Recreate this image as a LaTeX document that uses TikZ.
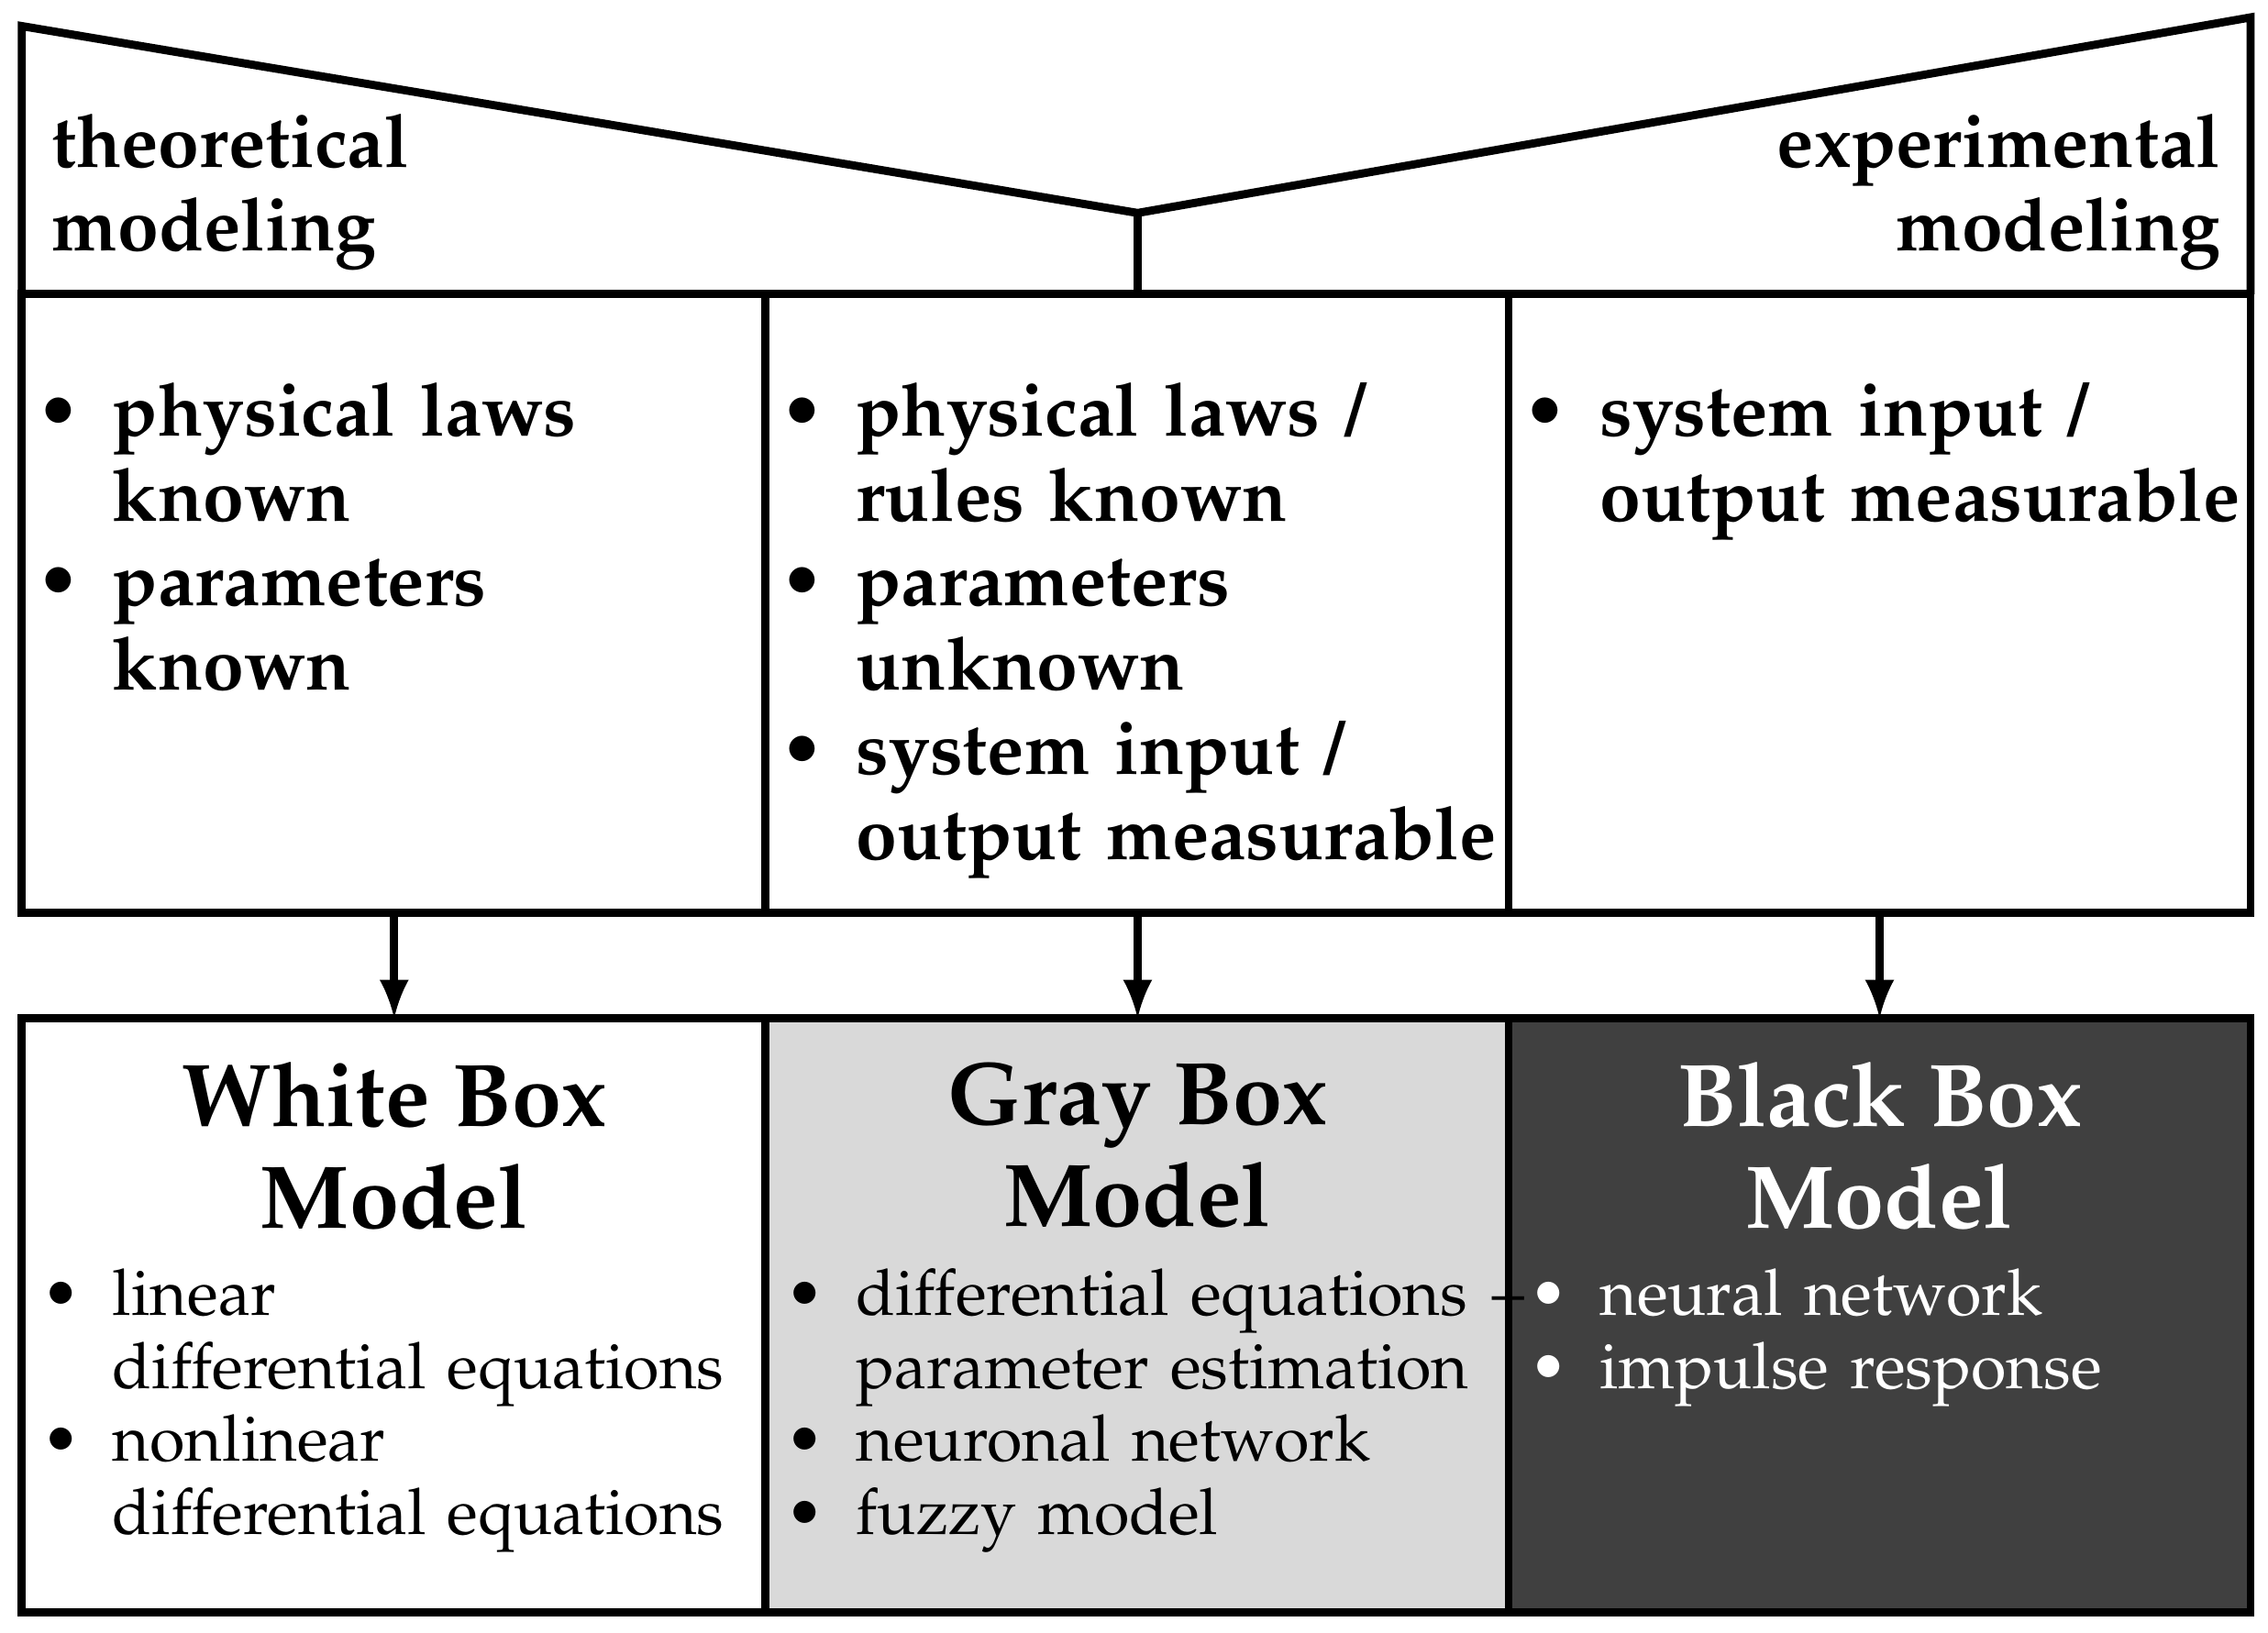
\documentclass[tikz,border=0pt]{standalone}
\usepackage[T1]{fontenc}
\usepackage{mathpazo}
\usepackage{enumitem}
\usetikzlibrary{positioning}
\definecolor{grayfill}{HTML}{D9D9D9}
\definecolor{darkfill}{HTML}{404040}
\setlist[itemize]{nosep,leftmargin=0.42cm,labelsep=0.22cm,label=\textbullet}

\begin{document}
\begin{tikzpicture}[x=0.01cm,y=-0.01cm,line width=1.6pt,
    toplist/.style={anchor=north west,inner sep=0pt,text width=5.1cm,font=\fontsize{14.5}{16.6}\selectfont\bfseries},
    botlist/.style={anchor=north west,inner sep=0pt,text width=5.1cm,font=\fontsize{12.6}{14.3}\selectfont},
    title/.style={anchor=north,inner sep=0pt,align=center,font=\fontsize{17.5}{18}\selectfont\bfseries},
    head/.style={inner sep=0pt,font=\fontsize{14.5}{16.3}\selectfont\bfseries},
    arr/.style={->,>=latex}]
    \useasboundingbox (0,0) rectangle (1565,1127);

    % Header
    \draw (15,203) -- (15,18) -- (785,147) -- (1553,12) -- (1553,203);
    \draw (785,147) -- (785,203);
    \node[head,anchor=north west,align=left] (theo) at (33,76) {theoretical\\modeling};
    \node[head,anchor=north east,align=right] (expe) at (1535,76) {experimental\\modeling};

    % Requirements
    \draw (15,203) rectangle (1553,630);
    \draw (528,203) -- (528,630);
    \draw (1041,203) -- (1041,630);
    \node[toplist] (reqw) at (33,240) {\begin{itemize}\item physical laws\\ known\item parameters\\ known\end{itemize}};
    \node[toplist] (reqg) at (546,240) {\begin{itemize}\item physical laws /\\ rules known\item parameters\\ unknown\item system input /\\ output measurable\end{itemize}};
    \node[toplist] (reqb) at (1059,240) {\begin{itemize}\item system input /\\ output measurable\end{itemize}};

    % Models
    \fill[grayfill] (528,703) rectangle (1041,1113);
    \fill[darkfill] (1041,703) rectangle (1553,1113);
    \draw (15,703) rectangle (1553,1113);
    \draw (528,703) -- (528,1113);
    \draw (1041,703) -- (1041,1113);

    \coordinate (tw) at (272,630); \coordinate (bw) at (272,703);
    \coordinate (tg) at (785,630); \coordinate (bg) at (785,703);
    \coordinate (tb) at (1297,630); \coordinate (bb) at (1297,703);
    \draw[arr] (tw) -- (bw);
    \draw[arr] (tg) -- (bg);
    \draw[arr] (tb) -- (bb);

    \node[title] (white) at (272,730) {White Box\\[2pt]Model};
    \node[title] (gray) at (785,730) {Gray Box\\[2pt]Model};
    \node[title,text=white] (black) at (1297,730) {Black Box\\[2pt]Model};

    \node[botlist] (listw) at (33,855) {\begin{itemize}\item linear\\ differential equations\item nonlinear\\ differential equations\end{itemize}};
    \node[botlist] (listg) at (546,855) {\begin{itemize}\item differential equations +\\ parameter estimation\item neuronal network\item fuzzy model\end{itemize}};
    \node[botlist,text=white] (listb) at (1059,855) {\begin{itemize}\item neural network\item impulse response\end{itemize}};

\end{tikzpicture}
\end{document}
